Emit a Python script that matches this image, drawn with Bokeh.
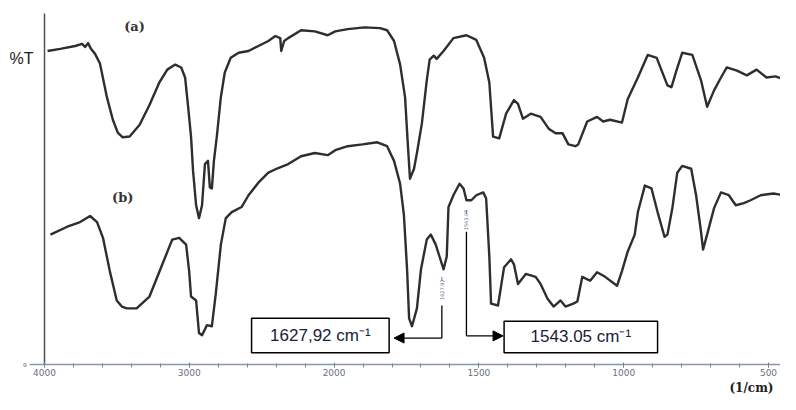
import numpy as np
from bokeh.plotting import figure
from bokeh.models import Range1d, FixedTicker, Label, Arrow, NormalHead, Title
from bokeh.core.properties import value
from bokeh.embed import file_html
from bokeh.resources import INLINE

# ---------------- data ----------------
wn_a = [3979, 3891, 3788, 3740, 3720, 3699, 3679, 3651, 3617, 3569,
        3528, 3494, 3460, 3412, 3343, 3275, 3207, 3152, 3097, 3056,
        3029, 3008, 2988, 2974, 2953, 2933, 2912, 2892, 2871, 2858,
        2844, 2830, 2810, 2782, 2755, 2714, 2659, 2591, 2523, 2454,
        2406, 2372, 2365, 2345, 2317, 2228, 2133, 2044, 1996, 1953,
        1895, 1841, 1817, 1793, 1772, 1755, 1745, 1738, 1724, 1714,
        1697, 1680, 1670, 1656, 1646, 1622, 1588, 1543, 1509, 1482,
        1464, 1451, 1430, 1406, 1379, 1365, 1348, 1321, 1287, 1259,
        1235, 1211, 1191, 1167, 1157, 1126, 1092, 1071, 1047, 1006,
        986, 951, 917, 886, 869, 849, 835, 818, 798, 763,
        733, 712, 688, 664, 644, 609, 575, 541, 507, 476,
        449, 432]
t_a = [87.6, 88.2, 89.0, 89.6, 88.7, 89.8, 88.2, 86.8, 84.1, 74.7,
       68.4, 64.8, 63.5, 63.7, 67.0, 72.5, 78.8, 82.4, 83.8, 83.0,
       80.2, 72.0, 63.7, 54.1, 44.5, 40.9, 44.5, 56.0, 56.9, 49.5,
       49.2, 56.9, 63.7, 74.7, 81.6, 85.7, 87.1, 87.6, 89.0, 90.4,
       91.8, 91.2, 87.6, 90.4, 91.2, 93.4, 93.1, 92.0, 93.1, 93.7,
       94.2, 94.0, 93.4, 90.4, 83.8, 74.7, 61.0, 51.9, 54.7, 59.1,
       67.3, 79.4, 85.2, 86.3, 85.4, 87.6, 91.2, 92.0, 90.7, 85.7,
       78.8, 63.7, 63.2, 70.1, 73.9, 72.8, 68.7, 70.1, 69.2, 65.9,
       64.6, 64.6, 61.5, 61.0, 61.5, 67.9, 69.2, 67.9, 68.4, 67.6,
       74.2, 80.2, 86.5, 85.7, 82.1, 78.0, 77.5, 82.1, 87.1, 86.5,
       79.4, 72.0, 76.6, 80.2, 83.0, 82.1, 80.8, 82.4, 80.2, 80.5,
       79.7, 75.5]

wn_b = [3959, 3843, 3754, 3685, 3637, 3596, 3549, 3501, 3466, 3432,
        3364, 3275, 3186, 3118, 3070, 3022, 3001, 2988, 2953, 2933,
        2912, 2878, 2844, 2817, 2782, 2748, 2707, 2639, 2591, 2523,
        2454, 2386, 2317, 2228, 2133, 2044, 1996, 1953, 1902, 1851,
        1817, 1793, 1772, 1759, 1748, 1741, 1731, 1714, 1700, 1680,
        1666, 1649, 1635, 1622, 1611, 1605, 1588, 1567, 1553, 1543,
        1526, 1509, 1485, 1475, 1464, 1458, 1434, 1413, 1389, 1379,
        1365, 1338, 1304, 1287, 1263, 1242, 1218, 1201, 1174, 1160,
        1143, 1116, 1092, 1064, 1023, 1006, 986, 962, 951, 927,
        904, 883, 859, 849, 832, 815, 798, 767, 750, 733,
        726, 712, 688, 664, 637, 613, 585, 562, 527, 483,
        449, 432]
t_b = [36.3, 38.5, 39.8, 41.5, 39.8, 35.4, 26.1, 17.9, 16.2, 15.7,
       15.7, 19.0, 28.0, 34.9, 35.4, 33.5, 26.1, 19.0, 17.9, 8.8,
       8.2, 11.0, 10.7, 19.8, 33.5, 40.9, 42.6, 44.0, 47.3, 50.8,
       53.6, 54.9, 56.0, 58.2, 59.1, 58.5, 59.9, 61.0, 61.5, 62.1,
       61.0, 56.9, 50.5, 41.8, 26.6, 12.9, 10.7, 15.7, 26.6, 34.9,
       36.3, 33.5, 29.9, 26.6, 30.2, 44.0, 47.3, 50.5, 49.2, 45.9,
       45.9, 47.3, 48.1, 46.4, 30.2, 17.0, 16.5, 27.2, 29.4, 28.0,
       22.5, 25.3, 24.5, 22.5, 18.4, 16.2, 17.9, 16.2, 17.0, 17.6,
       24.5, 23.4, 25.8, 24.5, 22.0, 26.1, 31.6, 36.3, 42.6, 50.0,
       49.2, 42.6, 35.7, 36.3, 43.7, 53.6, 55.5, 54.7, 47.3, 37.1,
       32.1, 36.3, 43.7, 48.1, 47.3, 44.5, 45.1, 45.9, 47.3, 47.8,
       47.3, 46.4]

tick_wavenumbers = [4000, 3000, 2000, 1500, 1000, 500]
tick_labels = ["4000", "3000", "2000", "1500", "1000", "500"]
peak_wavenumbers = [1627.92, 1543.05]
peak_box_labels = ["1627,92 cm\u207b\u00b9", "1543.05 cm\u207b\u00b9"]
peak_marker_labels = ["1627.92", "1543.05"]


def to_u(wn):
    """Chart abscissa: the scale is doubled below 2000 cm-1, as on the instrument."""
    wn = np.asarray(wn, dtype=float)
    return np.where(wn >= 2000, wn, 2.0 * wn - 2000.0)


INK = "#2e2e2e"
W, H = 780, 394
BOTTOM = 25                      # room for tick labels + unit title
PX_PER_U = 0.1448
U_LEFT = 4000 + 44 / PX_PER_U
U_RIGHT = 4000 - (W - 44) / PX_PER_U
FRAME_H = H - BOTTOM
BASE = FRAME_H - 3               # pixel row of T = 0 inside the frame
PX_PER_T = (BASE - 13) / 98.1
Y_TOP = BASE / PX_PER_T
Y_BOT = -3 / PX_PER_T

p = figure(width=W, height=H, output_backend="svg", toolbar_location=None,
           x_range=Range1d(U_LEFT, U_RIGHT), y_range=Range1d(Y_BOT, Y_TOP),
           y_axis_location=None,
           min_border_left=0, min_border_right=0, min_border_top=0,
           min_border_bottom=BOTTOM)
p.outline_line_color = None
p.xgrid.visible = False
p.ygrid.visible = False
p.background_fill_color = "white"

# x axis (ticks + labels); the base line itself is drawn at T = 0
major_u = [int(v) for v in to_u(tick_wavenumbers)]
p.xaxis.ticker = FixedTicker(ticks=major_u, minor_ticks=list(range(-1000, 4001, 200)))
p.xaxis.major_label_overrides = {u: lab for u, lab in zip(major_u, tick_labels)}
p.xaxis.axis_line_color = None
p.xaxis.major_tick_line_color = "#6a7486"
p.xaxis.minor_tick_line_color = "#7a8496"
p.xaxis.major_tick_in = 5
p.xaxis.major_tick_out = 0
p.xaxis.minor_tick_in = 4
p.xaxis.minor_tick_out = 0
p.xaxis.major_label_standoff = 1
p.xaxis.major_label_text_font = "DejaVu Sans"
p.xaxis.major_label_text_font_size = "9px"
p.xaxis.major_label_text_color = "#687082"

p.add_layout(Title(text="(1/cm)", align="right", offset=7, standoff=0,
                   text_font="DejaVu Serif", text_font_style="bold",
                   text_font_size="12px", text_color="#202020"), "below")

# axis lines
p.segment(x0=[4103], y0=[0], x1=[U_RIGHT - 50], y1=[0], line_color="#8a96a8", line_width=1.5)
p.segment(x0=[4000], y0=[0], x1=[4000], y1=[98.1], line_color="#505050", line_width=1.5)
p.text(x=[4135], y=[0], text=["0"], text_align="center", text_baseline="middle",
       text_font=value("Liberation Serif"), text_font_size="7px", text_color="#555555")

# spectra
p.line(to_u(wn_a), t_a, line_color=INK, line_width=2.4, line_join="round")
p.line(to_u(wn_b), t_b, line_color=INK, line_width=2.4, line_join="round")

# curve labels
p.text(x=[3378, 3460], y=[94.5, 46.7], text=["(a)", "(b)"], text_align="center",
       text_baseline="middle", text_font=value("DejaVu Serif"),
       text_font_style="bold", text_font_size="13px", text_color="#333333")

# y label
p.add_layout(Label(x=4000, y=85.4, x_offset=-11, text="%T", text_align="right",
                   text_baseline="middle", text_font="Liberation Sans",
                   text_font_size="16px", text_color="#202020"))

# peak markers (tiny rotated labels on the trace)
pu = to_u(peak_wavenumbers)
p.segment(x0=pu, y0=[24.5, 43.0], x1=pu, y1=[23.3, 42.0], line_color="#6a7fa8", line_width=1)
p.text(x=pu, y=[20.9, 40.4], text=peak_marker_labels, angle=np.pi / 2,
       text_align="center", text_baseline="middle", text_font=value("DejaVu Sans"),
       text_font_size="5px", text_color="#5a6e9a")

# leader lines and arrows
p.segment(x0=pu, y0=[16.5, 37.1], x1=pu, y1=[7.4, 8.0], line_color="black", line_width=1.3)
box_left = to_u([2570, 1413])
box_right = to_u([1810, 883])
tip = to_u([1793, 1416.6])
for i, yy in enumerate([7.4, 8.0]):
    p.add_layout(Arrow(end=NormalHead(size=10, fill_color="black", line_color="black"),
                       x_start=float(pu[i]), y_start=yy, x_end=float(tip[i]), y_end=yy,
                       line_color="black", line_width=1.3))

# label boxes
p.quad(left=box_left, right=box_right, top=[12.9, 12.1], bottom=[3.3, 3.3],
       fill_color="white", line_color="black", line_width=1.5)
p.text(x=(box_left + box_right) / 2, y=[8.1, 7.7], text=peak_box_labels,
       text_align="center", text_baseline="middle", text_font=value("Liberation Sans"),
       text_font_size="17px", text_color="#20203a")

open("out.html", "w").write(file_html(p, INLINE))
